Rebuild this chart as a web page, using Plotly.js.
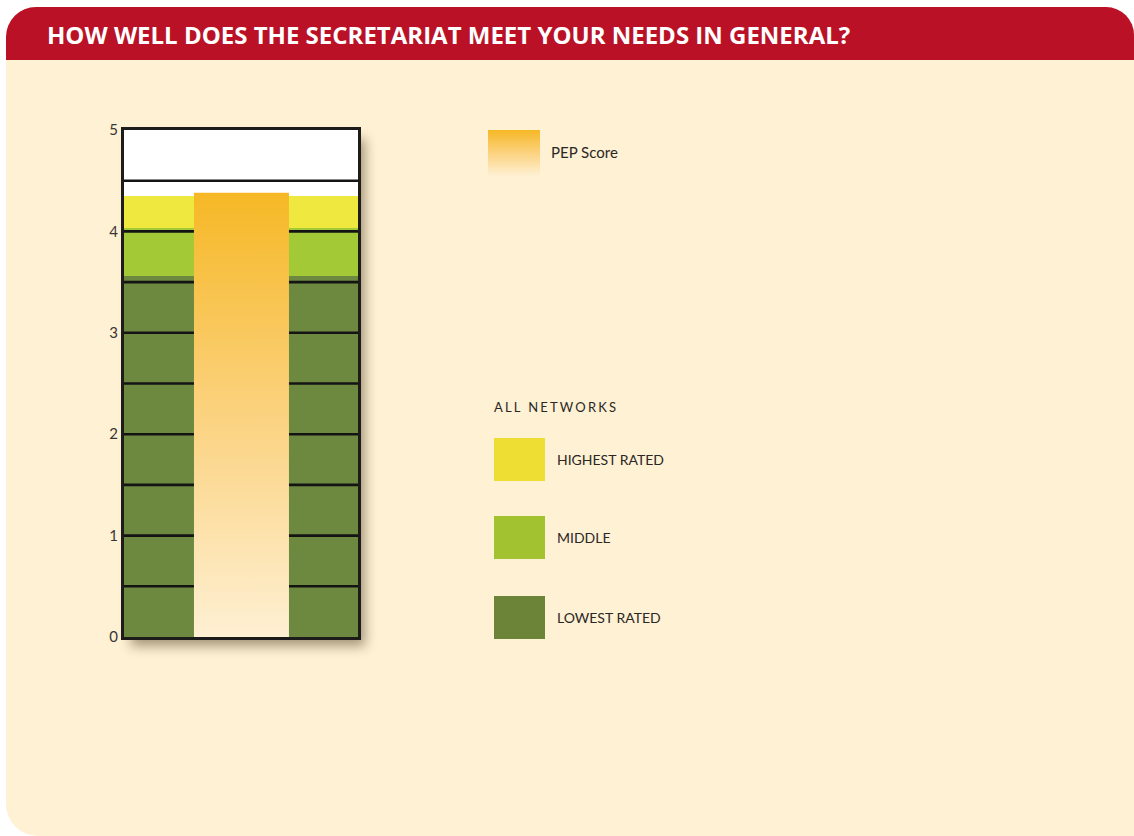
<!DOCTYPE html>
<html>
<head>
<meta charset="utf-8">
<script src="https://cdn.plot.ly/plotly-3.0.1.min.js"></script>
<style>
  html, body { margin: 0; padding: 0; background: #ffffff; overflow: hidden; }
  #panel { position: absolute; left: 6px; top: 7px; width: 1128px; height: 829px;
           background: #fef1d4; border-radius: 30px 28px 0 32px; overflow: hidden; }
  #header { position: absolute; left: 0; top: 0; width: 100%; height: 53px; background: #ba1126; }
  #shadow { position: absolute; left: 124px; top: 130px; width: 234px; height: 507px;
            box-shadow: 7px 9px 11px rgba(60,40,10,0.45); }
  #chart { position: absolute; left: 0; top: 0; width: 1134px; height: 836px; }
</style>
</head>
<body>
<div id="panel"><div id="header"></div></div>
<div id="shadow"></div>
<div id="chart"></div>
<script>
// ---- data ----
const titleText = 'HOW WELL DOES THE SECRETARIAT MEET YOUR NEEDS IN GENERAL?';
const yTickValues = [0, 1, 2, 3, 4, 5];
const yTickLabels = ['0', '1', '2', '3', '4', '5'];
const gridLevels = [0.5, 1, 1.5, 2, 2.5, 3, 3.5, 4, 4.5];
const bandNames = ['LOWEST RATED', 'MIDDLE', 'HIGHEST RATED'];
const bandLower = [0, 3.56, 4.03];
const bandUpper = [3.56, 4.03, 4.35];
const pepName = 'PEP Score';
const pepScore = 4.38;
const legendHeading = 'ALL NETWORKS';

// ---- styles ----
const bandColors = ['#6c893f', '#a3c936', '#eee83f'];
const legendColors = ['#6c8437', '#a3c22f', '#eedd33'];
const pepTop = '#f6b826', pepMid = '#fbd27f', pepBottom = '#fef0d3';
const pepCenter = 0.502, pepWidth = 0.406;
const textColor = '#2b2724';

// plot area in pixels
const PL = 124, PR = 358, PT = 130, PB = 637;
const px = v => (v - PL) / (PR - PL);
const py = v => (PB - v) / (PB - PT);

const traces = [];
// background bands
bandNames.forEach((n, i) => {
  traces.push({
    type: 'bar', name: n, x: [0.5], width: [1],
    base: [bandLower[i]], y: [bandUpper[i] - bandLower[i]],
    marker: { color: bandColors[i], line: { width: 0 } },
    hoverinfo: 'name', showlegend: false
  });
});
// grid lines over the bands
const gx = [], gy = [];
gridLevels.forEach(g => { gx.push(0, 1, null); gy.push(g, g, null); });
traces.push({
  type: 'scatter', mode: 'lines', x: gx, y: gy,
  line: { color: '#141414', width: 2.6 }, hoverinfo: 'skip', showlegend: false
});
// PEP score bar with gradient
traces.push({
  type: 'scatter', mode: 'none', name: pepName,
  x: [pepCenter - pepWidth / 2, pepCenter + pepWidth / 2],
  y: [pepScore, pepScore],
  fill: 'tozeroy',
  fillgradient: { type: 'vertical', start: 0, stop: pepScore,
    colorscale: [[0, pepBottom], [0.5, pepMid], [1, pepTop]] },
  fillcolor: pepTop, hoverinfo: 'name+y', showlegend: false
});

const shapes = [];
const annotations = [];
// legend swatches for bands (top to bottom: highest, middle, lowest)
const legendRows = [ {i: 2, y0: 438, y1: 481}, {i: 1, y0: 516, y1: 559}, {i: 0, y0: 596, y1: 639} ];
legendRows.forEach(r => {
  shapes.push({ type: 'rect', xref: 'paper', yref: 'paper',
    x0: px(494), x1: px(545), y0: py(r.y1), y1: py(r.y0),
    fillcolor: legendColors[r.i], line: { width: 0 } });
  annotations.push({ xref: 'paper', yref: 'paper', x: px(555), y: py((r.y0 + r.y1) / 2),
    xanchor: 'left', yanchor: 'middle', showarrow: false, text: bandNames[r.i],
    font: { family: 'Lato, Open Sans, sans-serif', size: 14, color: textColor } });
});
annotations.push({ xref: 'paper', yref: 'paper', x: px(492), y: py(407),
  xanchor: 'left', yanchor: 'middle', showarrow: false,
  text: legendHeading.split('').join('\u2006'),
  font: { family: 'Lato, Open Sans, sans-serif', size: 13, color: textColor } });
annotations.push({ xref: 'paper', yref: 'paper', x: px(549), y: py(152),
  xanchor: 'left', yanchor: 'middle', showarrow: false, text: pepName,
  font: { family: 'Lato, Open Sans, sans-serif', size: 15, color: textColor } });

const svg = "<svg xmlns='http://www.w3.org/2000/svg' width='52' height='46'><defs><linearGradient id='g' x1='0' y1='0' x2='0' y2='1'><stop offset='0' stop-color='" + pepTop + "'/><stop offset='0.5' stop-color='" + pepMid + "'/><stop offset='1' stop-color='" + pepBottom + "'/></linearGradient></defs><rect width='52' height='46' fill='url(#g)'/></svg>";
const images = [{
  source: 'data:image/svg+xml;charset=utf-8,' + encodeURIComponent(svg),
  xref: 'paper', yref: 'paper', x: px(488), y: py(130),
  sizex: px(540) - px(488), sizey: py(130) - py(176),
  xanchor: 'left', yanchor: 'top', sizing: 'stretch', layer: 'above'
}];

const layout = {
  width: 1134, height: 836,
  margin: { l: PL, r: 1134 - PR, t: PT, b: 836 - PB, pad: 0 },
  paper_bgcolor: 'rgba(0,0,0,0)', plot_bgcolor: '#ffffff',
  barmode: 'overlay', bargap: 0,
  title: { text: titleText, x: 47 / 1134, xanchor: 'left', y: 1 - 36 / 836, yanchor: 'middle',
    font: { family: 'Open Sans, sans-serif', size: 24, weight: 700, color: '#ffffff' } },
  xaxis: { range: [0, 1], showgrid: false, zeroline: false, showticklabels: false, ticks: '',
    showline: true, mirror: true, linecolor: '#1e1c1a', linewidth: 3, fixedrange: true },
  yaxis: { range: [0, 5], showgrid: false, zeroline: false, tickvals: yTickValues, ticktext: yTickLabels,
    ticks: '', showline: true, mirror: true, linecolor: '#1e1c1a', linewidth: 3,
    tickfont: { family: 'Lato, Open Sans, sans-serif', size: 15, color: '#3a3632' }, fixedrange: true },
  shapes: shapes, annotations: annotations, images: images,
  showlegend: false
};

Plotly.newPlot('chart', traces, layout, { displayModeBar: false, staticPlot: true });
</script>
</body>
</html>
